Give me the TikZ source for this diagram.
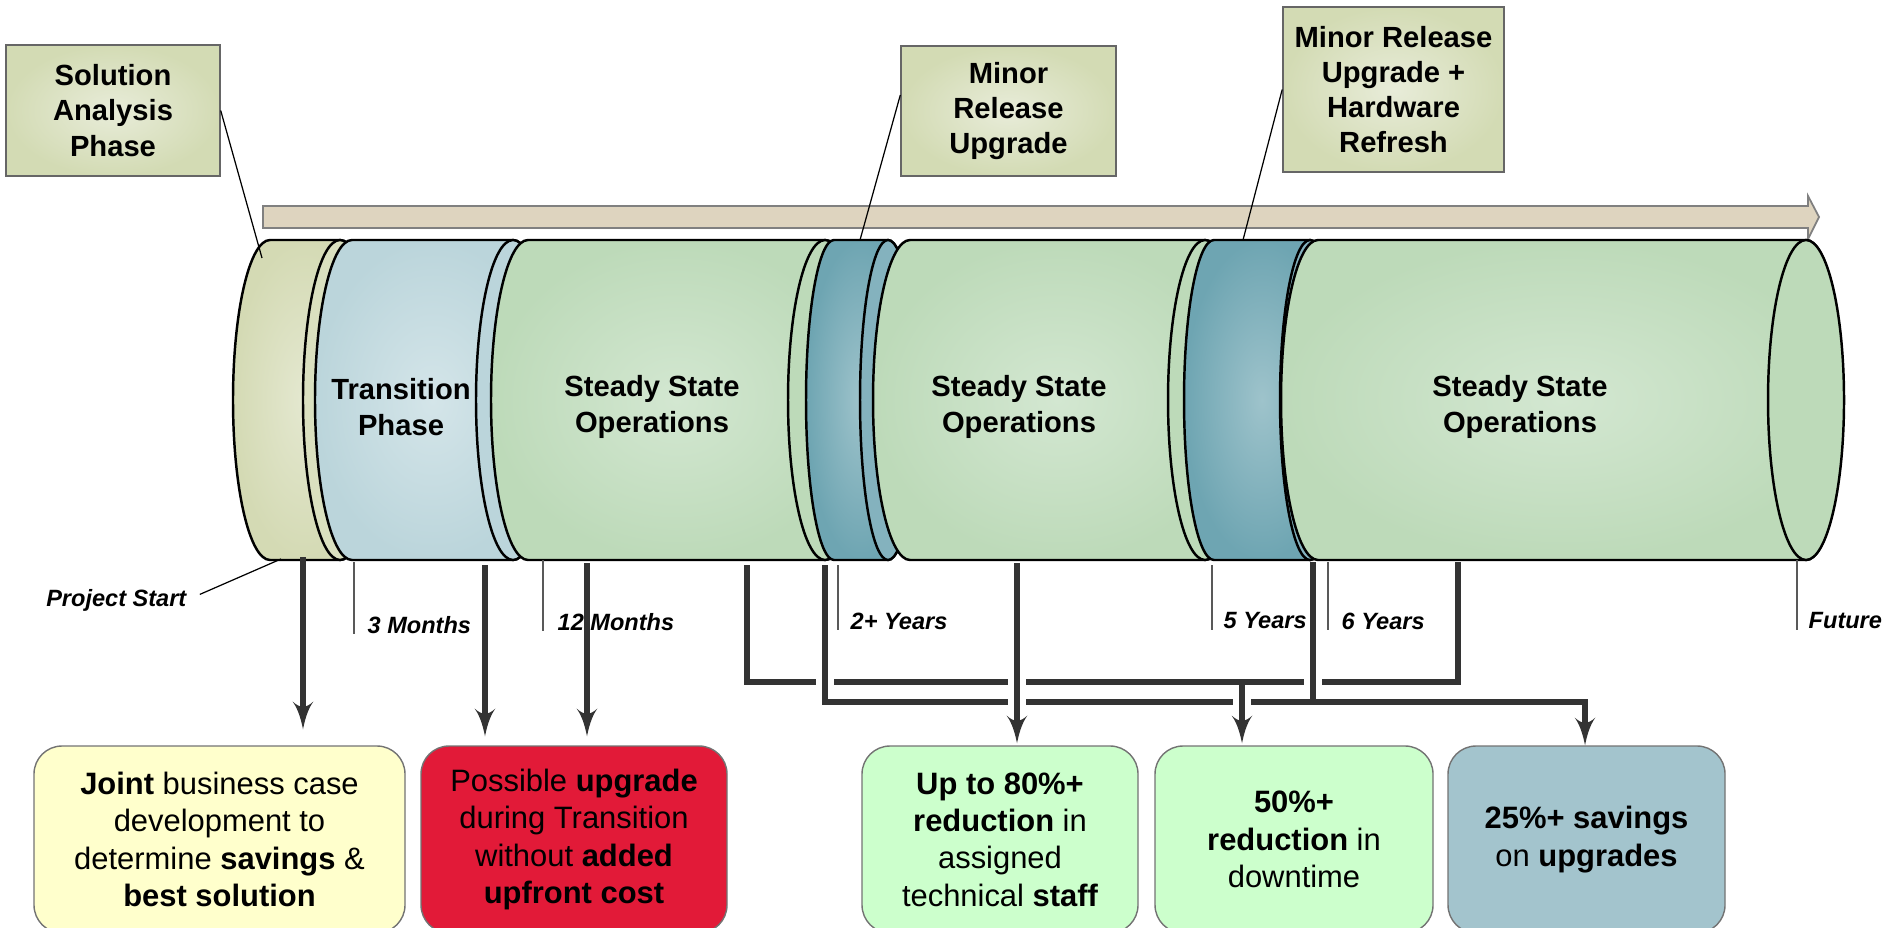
\documentclass[tikz,border=0pt]{standalone}
\usepackage{fontspec}
\setmainfont{Liberation Sans}
\usepackage{tikz}
\usetikzlibrary{arrows}
\definecolor{solout}{HTML}{D4DAB4}
\definecolor{solin}{HTML}{E4E8D0}
\definecolor{transout}{HTML}{BBD5DB}
\definecolor{transin}{HTML}{D4E5E9}
\definecolor{steadyout}{HTML}{BDDAB9}
\definecolor{steadyin}{HTML}{D3E7D1}
\definecolor{tealout}{HTML}{6EA5B2}
\definecolor{tealin}{HTML}{9EC3CB}
\definecolor{noteout}{HTML}{D3DBB4}
\definecolor{notein}{HTML}{E8ECD9}
\definecolor{barfill}{HTML}{DED4BF}
\definecolor{linegray}{HTML}{333333}
\definecolor{boxyellow}{HTML}{FFFFCC}
\definecolor{boxred}{HTML}{E21A38}
\definecolor{boxgreen}{HTML}{CCFFCC}
\definecolor{boxblue}{HTML}{A3C4CD}
\tikzstyle{drum} = [draw, line width=0.7pt, x radius=0.37, y radius=1.6]
\tikzstyle{callout} = [rectangle, draw=black!60, line width=0.4pt, inner color=notein, outer color=noteout, align=center, font=\fontsize{8.3}{10}\selectfont\bfseries]
\tikzstyle{seglabel} = [align=center, font=\fontsize{8.3}{10.2}\selectfont\bfseries]
\tikzstyle{when} = [inner sep=0, font=\fontsize{6.7}{8}\selectfont\bfseries\itshape]
\tikzstyle{result} = [rectangle, rounded corners=0.28cm, draw=black!55, line width=0.4pt, align=center, minimum height=1.87cm, font=\fontsize{8.8}{10.6}\selectfont]
\tikzstyle{leader} = [draw, line width=0.35pt]
\tikzstyle{tick} = [draw=black!65, line width=0.4pt]
\tikzstyle{conn} = [draw=linegray, line width=1.7pt]
\tikzstyle{feed} = [draw=linegray, line width=1.7pt, -latex']
\newcommand{\busgap}[1]{\fill[white] (#1) ++(-0.09,-0.1) rectangle ++(0.18,0.2);}

\begin{document}
\begin{tikzpicture}
        \useasboundingbox (0,0) rectangle (18.89,-9.27);

        % Timeline bar
        \draw[draw=black!50, fill=barfill, line width=0.5pt] (2.63,-2.06) -- (18.08,-2.06) -- (18.08,-1.96) -- (18.19,-2.17) -- (18.08,-2.39) -- (18.08,-2.28) -- (2.63,-2.28) -- cycle;

        % Draw drums
        \draw[drum, inner color=solin, outer color=solout] (2.70,-2.40) -- (3.40,-2.40) arc[start angle=90, end angle=-90] -- (2.70,-5.60) arc[start angle=270, end angle=90] -- cycle;
        \draw[drum, fill=solout!85!white] (3.40,-4.00) ellipse [x radius=0.37, y radius=1.6];
        \draw[drum, inner color=transin, outer color=transout] (3.52,-2.40) -- (5.13,-2.40) arc[start angle=90, end angle=-90] -- (3.52,-5.60) arc[start angle=270, end angle=90] -- cycle;
        \draw[drum, fill=transout] (5.13,-4.00) ellipse [x radius=0.37, y radius=1.6];
        \draw[drum, inner color=steadyin, outer color=steadyout] (5.28,-2.40) -- (8.25,-2.40) arc[start angle=90, end angle=-90] -- (5.28,-5.60) arc[start angle=270, end angle=90] -- cycle;
        \draw[drum, fill=steadyout] (8.25,-4.00) ellipse [x radius=0.37, y radius=1.6];
        \draw[drum, x radius=0.28, inner color=tealin, outer color=tealout] (8.34,-2.40) -- (8.88,-2.40) arc[start angle=90, end angle=-90] -- (8.34,-5.60) arc[start angle=270, end angle=90] -- cycle;
        \draw[drum, fill=tealout!85!white] (8.88,-4.00) ellipse [x radius=0.28, y radius=1.6];
        \draw[drum, inner color=steadyin, outer color=steadyout] (9.10,-2.40) -- (12.05,-2.40) arc[start angle=90, end angle=-90] -- (9.10,-5.60) arc[start angle=270, end angle=90] -- cycle;
        \draw[drum, fill=steadyout] (12.05,-4.00) ellipse [x radius=0.37, y radius=1.6];
        \draw[drum, x radius=0.30, inner color=tealin, outer color=tealout] (12.14,-2.40) -- (13.10,-2.40) arc[start angle=90, end angle=-90] -- (12.14,-5.60) arc[start angle=270, end angle=90] -- cycle;
        \draw[drum, fill=tealout!85!white] (13.10,-4.00) ellipse [x radius=0.30, y radius=1.6];
        \draw[drum, inner color=steadyin, outer color=steadyout] (13.18,-2.40) -- (18.06,-2.40) arc[start angle=90, end angle=-90] -- (13.18,-5.60) arc[start angle=270, end angle=90] -- cycle;
        \draw[drum, fill=steadyout] (18.06,-4.00) ellipse [x radius=0.38, y radius=1.6];

        % Place nodes
        \node at (4.01, -4.07) [seglabel] (trans) {Transition\\Phase};
        \node at (6.52, -4.07) [seglabel] (steady1) {Steady State\\Operations};
        \node at (10.19, -4.07) [seglabel] (steady2) {Steady State\\Operations};
        \node at (15.20, -4.07) [seglabel] (steady3) {Steady State\\Operations};

        \node at (1.13, -1.105) [callout, minimum width=2.14cm, minimum height=1.31cm] (sol) {Solution\\Analysis\\Phase};
        \node at (10.085, -1.11) [callout, minimum width=2.15cm, minimum height=1.30cm] (minor) {Minor\\Release\\Upgrade};
        \node at (13.935, -0.895) [callout, minimum width=2.17cm, minimum height=1.65cm] (hw) {Minor Release\\Upgrade +\\Hardware\\Refresh};

        \node at (1.87, -6.00) [when, anchor=east] (start) {Project Start};
        \node at (3.67, -6.25) [when, anchor=west] (m3) {3 Months};
        \node at (5.57, -6.22) [when, anchor=west] (m12) {12 Months};
        \node at (8.50, -6.21) [when, anchor=west] (y2) {2+ Years};
        \node at (12.23, -6.21) [when, anchor=west] (y5) {5 Years};
        \node at (13.41, -6.21) [when, anchor=west] (y6) {6 Years};
        \node at (18.08, -6.21) [when, anchor=west] (fut) {Future};

        \node at (2.195, -8.395) [result, fill=boxyellow, minimum width=3.71cm] (joint) {\textbf{Joint} business case\\development to\\determine \textbf{savings} \&\\\textbf{best solution}};
        \node at (5.74, -8.395) [result, fill=boxred, minimum width=3.06cm] (upg) {Possible \textbf{upgrade}\\during Transition\\without \textbf{added}\\\textbf{upfront cost}};
        \node at (10.00, -8.395) [result, fill=boxgreen, minimum width=2.76cm] (staff) {\textbf{Up to 80\%+}\\\textbf{reduction} in\\assigned\\technical \textbf{staff}};
        \node at (12.94, -8.395) [result, fill=boxgreen, minimum width=2.78cm] (down) {\textbf{50\%+}\\\textbf{reduction} in\\downtime};
        \node at (15.865, -8.395) [result, fill=boxblue, minimum width=2.77cm] (save) {\textbf{25\%+ savings}\\on \textbf{upgrades}};

        \coordinate (p0) at (2.62, -2.58);
        \coordinate (p1) at (8.60, -2.40);
        \coordinate (p2) at (12.43, -2.40);
        \coordinate (k0) at (2.81, -5.59);
        \coordinate (k1) at (3.54, -5.62);
        \coordinate (k2) at (5.43, -5.60);
        \coordinate (k3) at (8.38, -5.65);
        \coordinate (k4) at (12.12, -5.65);
        \coordinate (k5) at (13.28, -5.62);
        \coordinate (k6) at (17.97, -5.60);
        \coordinate (s1) at (3.03, -5.57);
        \coordinate (s2) at (4.85, -5.65);
        \coordinate (s3) at (5.87, -5.63);
        \coordinate (s4) at (7.47, -5.65);
        \coordinate (s5) at (8.25, -5.65);
        \coordinate (s6) at (10.17, -5.63);
        \coordinate (s7) at (13.13, -5.62);
        \coordinate (s8) at (14.58, -5.62);
        \coordinate (u1) at (7.47, -6.82);
        \coordinate (u2) at (14.58, -6.82);
        \coordinate (l1) at (8.25, -7.02);
        \coordinate (l2) at (15.85, -7.02);
        \coordinate (a50) at (12.42, -6.82);

        % Draw edges
        \path [leader] (sol.east) -- (p0);
        \path [leader] ([yshift=0.16cm]minor.west) -- (p1);
        \path [leader] (hw.west) -- (p2);
        \path [leader, shorten <=0.14cm] (start.east) -- (k0);
        \path [tick] (k1) -- (k1 |- m3.south);
        \path [tick] (k2) -- (k2 |- m12.south);
        \path [tick] (k3) -- (k3 |- y2.south);
        \path [tick] (k4) -- (k4 |- y5.south);
        \path [tick] (k5) -- (k5 |- y6.south);
        \path [tick] (k6) -- (k6 |- fut.south);

        \path [feed, shorten >=0.16cm] (s1) -- (s1 |- joint.north);
        \path [feed, shorten >=0.09cm] (s2) -- (s2 |- upg.north);
        \path [feed, shorten >=0.09cm] (s3) -- (s3 |- upg.north);
        \path [conn] (s4) -- (u1) -- (u2) -- (s8);
        \busgap{s5 |- u1}
        \busgap{s6 |- u1}
        \busgap{s7 |- u1}
        \path [feed] (s5) -- (l1) -- (l2) -- (l2 |- save.north);
        \path [conn] (s7) -- (s7 |- l1);
        \busgap{s6 |- l1}
        \busgap{a50 |- l1}
        \path [feed, shorten >=0.02cm] (s6) -- (s6 |- staff.north);
        \path [feed, shorten >=0.02cm] (a50) -- (a50 |- down.north);
\end{tikzpicture}
\end{document}
